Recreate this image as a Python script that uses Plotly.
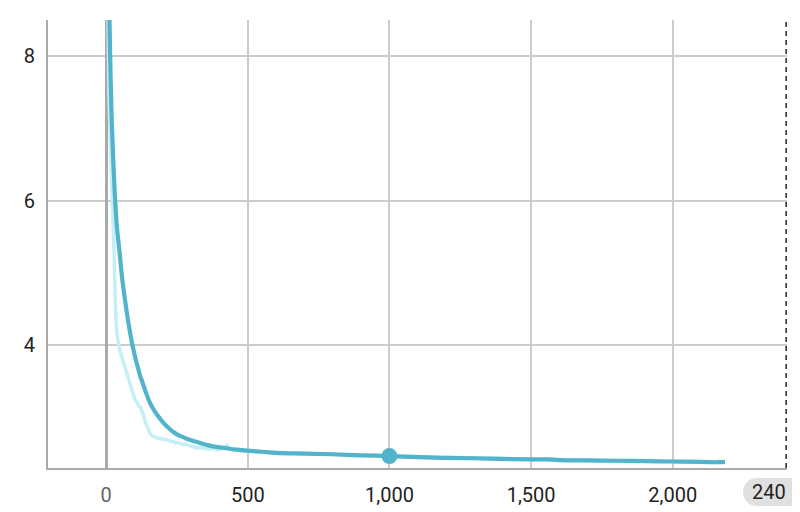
import plotly.graph_objects as go

# ---- data ----
raw_steps = [0, 5, 10, 15, 20, 23, 26, 28, 30, 32, 35, 38, 43, 47, 50, 54, 58, 63, 68, 74, 79, 85,
             90, 96, 102, 108, 114, 120, 126, 132, 138, 146, 155, 163, 173, 180, 185, 193, 200, 207,
             214, 222, 230, 238, 245, 252, 260, 266, 272, 280, 290, 298, 305, 313, 321, 328, 335,
             343, 350, 358, 365, 373, 380, 388, 395, 403, 410, 416, 422, 428, 434, 440, 447, 455,
             462, 470, 480, 490, 500, 510, 530, 550, 575, 600, 650, 700, 750, 800, 850, 900, 950,
             1000, 1050, 1100, 1150, 1200, 1250, 1300, 1350, 1400, 1450, 1500, 1550, 1600, 1650,
             1700, 1750, 1800, 1850, 1900, 1950, 2000, 2050, 2100, 2150, 2184]
raw_loss = [10.8, 8.5, 7.5, 6.8, 6.3, 6.0, 5.6, 5.31, 4.95, 4.62, 4.35, 4.16, 4.0, 3.95, 3.91,
            3.86, 3.79, 3.74, 3.67, 3.60, 3.53, 3.45, 3.39, 3.30, 3.24, 3.22, 3.16, 3.15, 3.10,
            3.03, 2.94, 2.87, 2.78, 2.745, 2.73, 2.705, 2.715, 2.71, 2.695, 2.70, 2.685, 2.68,
            2.665, 2.67, 2.645, 2.655, 2.64, 2.63, 2.625, 2.63, 2.61, 2.605, 2.595, 2.59, 2.575,
            2.585, 2.58, 2.57, 2.575, 2.565, 2.56, 2.565, 2.57, 2.555, 2.55, 2.56, 2.57, 2.59,
            2.60, 2.615, 2.58, 2.565, 2.55, 2.545, 2.55, 2.545, 2.535, 2.54, 2.535, 2.54, 2.53,
            2.525, 2.52, 2.515, 2.505, 2.50, 2.49, 2.485, 2.48, 2.475, 2.47, 2.465, 2.46, 2.45,
            2.445, 2.44, 2.44, 2.435, 2.43, 2.425, 2.425, 2.42, 2.42, 2.41, 2.41, 2.405, 2.405,
            2.40, 2.40, 2.395, 2.395, 2.39, 2.385, 2.385, 2.38, 2.385]

smooth_steps = [0, 4, 8, 12, 16, 20, 26, 32, 39, 47, 56, 67, 80, 93, 100, 106, 113, 120, 128, 135,
                142, 149, 157, 166, 175, 184, 195, 205, 215, 226, 240, 255, 270, 285, 308, 332,
                355, 377, 403, 430, 460, 497, 550, 600, 700, 800, 900, 1000, 1100, 1200, 1300,
                1400, 1500, 1550, 1600, 1700, 1800, 1900, 2000, 2100, 2160, 2184]
smooth_loss = [11.5, 10.3, 9.3, 8.5, 7.7, 7.11, 6.5, 6.0, 5.6, 5.31, 4.95, 4.62, 4.28, 4.0, 3.88,
               3.78, 3.68, 3.58, 3.49, 3.41, 3.33, 3.255, 3.185, 3.12, 3.065, 3.015, 2.96, 2.915,
               2.875, 2.835, 2.79, 2.755, 2.73, 2.705, 2.675, 2.645, 2.62, 2.60, 2.585, 2.57,
               2.555, 2.54, 2.525, 2.51, 2.50, 2.49, 2.475, 2.465, 2.45, 2.44, 2.435, 2.425, 2.42,
               2.42, 2.41, 2.405, 2.40, 2.395, 2.39, 2.385, 2.38, 2.385]

marker_step = [1000]
marker_loss = [2.465]

x_tickvals = [0, 500, 1000, 1500, 2000]
x_ticktext = ["<span style='color:#666'>0</span>", "500", "1,000", "1,500", "2,000"]
y_tickvals = [4, 6, 8]
cursor_step = 2400
cursor_label = "240"

RAW_COLOR = "#c4eff6"
SMOOTH_COLOR = "#52b4ca"

fig = go.Figure()
fig.add_trace(go.Scatter(x=raw_steps, y=raw_loss, mode="lines",
                         line=dict(color=RAW_COLOR, width=3.5), hoverinfo="skip"))
fig.add_trace(go.Scatter(x=smooth_steps, y=smooth_loss, mode="lines",
                         line=dict(color=SMOOTH_COLOR, width=4.2, shape="spline", smoothing=1.0)))
fig.add_trace(go.Scatter(x=marker_step, y=marker_loss, mode="markers",
                         marker=dict(color=SMOOTH_COLOR, size=16)))

# dashed cursor line
fig.add_shape(type="line", xref="x", yref="paper", x0=cursor_step, x1=cursor_step, y0=0, y1=1,
              line=dict(color="#222", width=1.5, dash="5px,4px"))

# page has an 8px body margin: figure is drawn 8px right/down
OFF = 8
FW, FH = 800 - OFF, 512 - OFF
L, R, T, B = 48 - OFF, 787 - OFF, 20 - OFF, 468 - OFF
W, H = R - L, B - T
def px(xp):
    return (xp - OFF - L) / W
def py(yp):
    return (B - (yp - OFF)) / H
fig.add_shape(type="circle", xref="paper", yref="paper", x0=px(743), x1=px(771), y0=py(506), y1=py(478),
              fillcolor="#e0e0e0", line=dict(width=0), layer="below")
fig.add_shape(type="rect", xref="paper", yref="paper", x0=px(757), x1=px(800), y0=py(506), y1=py(478),
              fillcolor="#e0e0e0", line=dict(width=0), layer="below")
fig.add_annotation(xref="paper", yref="paper", x=px(750), y=py(492), xanchor="left", yanchor="middle",
                   text=cursor_label, showarrow=False, font=dict(size=20, color="#222", family="Roboto"))

fig.update_layout(
    width=FW, height=FH,
    margin=dict(l=L, r=FW - R, t=T, b=FH - B, autoexpand=False),
    paper_bgcolor="white", plot_bgcolor="white",
    showlegend=False,
    font=dict(family="Roboto", size=20, color="#222"),
)
fig.update_xaxes(range=[-205, 2403], tickvals=x_tickvals, ticktext=x_ticktext, automargin=False,
                 showgrid=True, gridcolor="#cccccc", gridwidth=2,
                 zeroline=True, zerolinecolor="#aaaaaa", zerolinewidth=3,
                 showline=True, linecolor="#aaaaaa", linewidth=2, ticks="", ticklabelstandoff=8)
fig.update_yaxes(range=[2.30, 8.50], tickvals=y_tickvals, automargin=False,
                 showgrid=True, gridcolor="#cccccc", gridwidth=2, zeroline=False,
                 showline=True, linecolor="#aaaaaa", linewidth=2, ticks="", ticklabelstandoff=7)

fig.write_html("out.html")
